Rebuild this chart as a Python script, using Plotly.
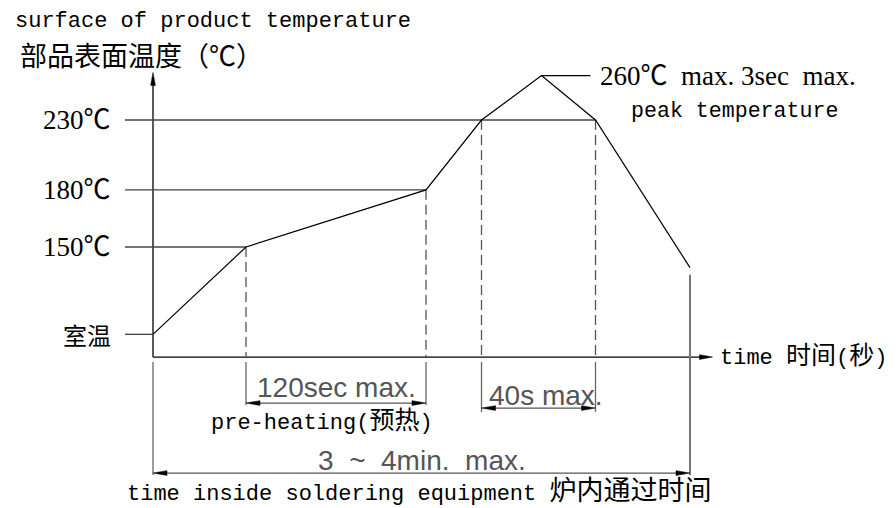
import plotly.graph_objects as go

# ---------------- data (schematic reflow profile) ----------------
profile_time = [0, 62, 182, 219, 259, 295, 358]          # time (schematic units)
profile_temp = [95, 150, 186, 230, 258, 230, 137]        # temperature level (schematic)

level_labels = ["室温", "150℃", "180℃", "230℃"]
level_values = [95, 150, 186, 230]
level_end_time = [0, 62, 182, 295]                       # where each guide line meets the profile

marker_times = [62, 182, 219, 295]                        # dashed drop lines
marker_temps = [150, 186, 230, 230]

preheat_span = [62, 182]
liquidus_span = [219, 295]
total_span = [0, 358]
peak_time, peak_temp = 259, 258

baseline_temp = 80.7      # level of the time axis
y_axis_top = 260          # tip of the temperature axis arrow
x_axis_tip = 373          # tip of the time axis arrow

# ---------------- layout helpers ----------------
W, H = 896, 508
X_RANGE = [-102.0, 495.33]
Y_RANGE = [-14.4, 305.6]
SX = W / (X_RANGE[1] - X_RANGE[0])
SY = H / (Y_RANGE[1] - Y_RANGE[0])
NB = "\u00a0"


def dx(px):
    return px / SX


def dy(px):
    return px / SY


fig = go.Figure()


def line(xs, ys, color="black", width=1.2, dash="solid"):
    fig.add_trace(go.Scatter(x=xs, y=ys, mode="lines",
                             line=dict(color=color, width=width, dash=dash),
                             hoverinfo="skip"))


def head(tx, ty, direction, length=13, half=2.4, color="black"):
    if direction == "up":
        xs = [tx, tx - dx(half), tx + dx(half), tx]
        ys = [ty, ty - dy(length), ty - dy(length), ty]
    elif direction == "right":
        xs = [tx, tx - dx(length), tx - dx(length), tx]
        ys = [ty, ty + dy(half), ty - dy(half), ty]
    else:
        xs = [tx, tx + dx(length), tx + dx(length), tx]
        ys = [ty, ty + dy(half), ty - dy(half), ty]
    fig.add_trace(go.Scatter(x=xs, y=ys, mode="lines", fill="toself",
                             fillcolor=color, line=dict(color=color, width=0.5),
                             hoverinfo="skip"))


MONO = "Liberation Mono, Noto Sans CJK SC, monospace"
SERIF = "Liberation Serif, Noto Sans CJK SC, serif"
CAD = "Liberation Sans, Arial, sans-serif"
CJK = "Noto Sans CJK SC, sans-serif"


def text(x, y, s, font, size, color="black", xanchor="center", yanchor="middle",
         xshift=0, yshift=0, xref="x", yref="y"):
    fig.add_annotation(x=x, y=y, xref=xref, yref=yref, text=s, showarrow=False,
                       xanchor=xanchor, yanchor=yanchor, xshift=xshift, yshift=yshift,
                       font=dict(family=font, size=size, color=color))


def cjk(s, size):
    return f'<span style="font-size:{size}px">{s}</span>'


# ---------------- axes ----------------
line([0, 0], [baseline_temp, y_axis_top - dy(10)], width=1.3)
head(0, y_axis_top, "up")
line([0, x_axis_tip - dx(10)], [baseline_temp, baseline_temp], width=1.3)
head(x_axis_tip, baseline_temp, "right")

# ---------------- guide lines & labels ----------------
for lab, v, te in zip(level_labels, level_values, level_end_time):
    line([-dx(28), te], [v, v], color="#444", width=1.3)
    if lab == "室温":
        text(0, v, lab, CJK, 24, xanchor="right", xshift=-40)
    else:
        text(0, v, lab, SERIF, 27, xanchor="right", xshift=-40)

# ---------------- dashed drop lines ----------------
for t, v in zip(marker_times, marker_temps):
    line([t, t], [v, baseline_temp], color="#555", width=1.3, dash="10px,5px")

# ---------------- profile ----------------
line(profile_time, profile_temp, color="black", width=1.2)

# peak leader & text
leader_end = peak_time + dx(49)
line([peak_time, leader_end], [peak_temp, peak_temp], color="black", width=1.2)
text(leader_end, peak_temp, "260℃" + NB * 2 + "max." + NB + "3sec" + NB * 2 + "max.",
     SERIF, 27, xanchor="left", xshift=7)
text(leader_end, peak_temp, "peak temperature", MONO, 21.6, xanchor="left", xshift=38, yshift=-35)

# ---------------- extension lines below axis ----------------
gap = baseline_temp - dy(5)
for t in preheat_span:
    line([t, t], [gap, baseline_temp - dy(48)], color="#666", width=1.3)
for t in liquidus_span:
    line([t, t], [gap, baseline_temp - dy(55)], color="#666", width=1.3)
line([total_span[0]] * 2, [gap, baseline_temp - dy(118)], color="#666", width=1.3)
line([total_span[1]] * 2, [profile_temp[-1] - dy(7), baseline_temp - dy(118)], color="#777", width=2)

# ---------------- dimension lines ----------------
for span, off in [(preheat_span, 46), (liquidus_span, 51), (total_span, 116)]:
    yv = baseline_temp - dy(off)
    line([span[0] + dx(8), span[1] - dx(8)], [yv, yv], color="#555", width=1.3)
    head(span[0], yv, "left", length=14)
    head(span[1], yv, "right", length=14)

mid_pre = (preheat_span[0] + preheat_span[1]) / 2
mid_tot = (total_span[0] + total_span[1]) / 2
text(mid_pre, baseline_temp - dy(46), "120sec" + NB + "max.", CAD, 28, color="#555", yshift=16)
text(mid_pre, baseline_temp - dy(46), "pre-heating(" + cjk("预热", 25) + ")", MONO, 22,
     xshift=-14, yshift=-19)
text(liquidus_span[0], baseline_temp - dy(51), "40s" + NB + "max.", CAD, 28, color="#555",
     xanchor="left", xshift=5, yshift=13)
text(mid_tot, baseline_temp - dy(116), "3" + NB * 2 + "~" + NB * 2 + "4min." + NB * 2 + "max.",
     CAD, 28, color="#555", yshift=13)
text(mid_tot, baseline_temp - dy(116),
     "time inside soldering equipment " + cjk("炉内通过时间", 27), MONO, 22,
     xshift=-3, yshift=-19)

# time axis label
text(x_axis_tip, baseline_temp, "time " + cjk("时间", 25) + "(" + cjk("秒", 25) + ")", MONO, 22,
     xanchor="left", xshift=5)

# titles
text(13 / W, 1 - 21 / H, "surface of product temperature", MONO, 22,
     xanchor="left", xref="paper", yref="paper")
text(18 / W, 1 - 54 / H, "部品表面温度（℃）", CJK, 27, xanchor="left", xref="paper", yref="paper")

fig.update_layout(
    width=W, height=H,
    margin=dict(l=0, r=0, t=0, b=0),
    paper_bgcolor="white", plot_bgcolor="white",
    showlegend=False,
    xaxis=dict(range=X_RANGE, visible=False, fixedrange=True),
    yaxis=dict(range=Y_RANGE, visible=False, fixedrange=True),
)

fig.write_html("out.html", config={"displayModeBar": False},
               post_script="document.body.style.margin='0';document.body.style.overflow='hidden';")
